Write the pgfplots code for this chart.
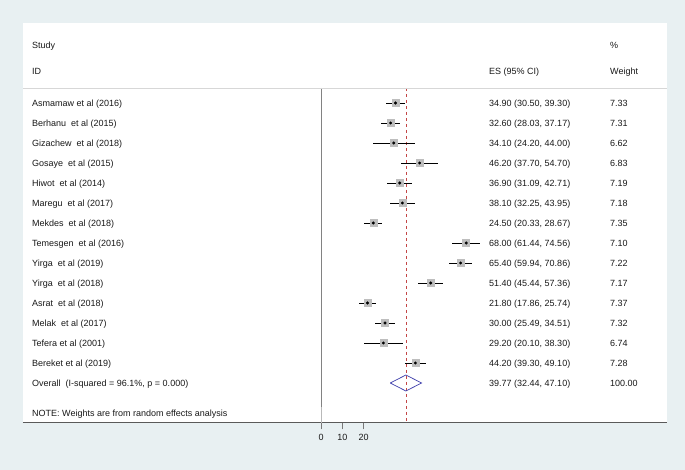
\documentclass[border=0pt]{standalone}
\usepackage{pgfplots}
\usepackage{pgfplotstable}
\pgfplotsset{compat=1.18}
\usepackage{fontspec}
\setmainfont{Liberation Sans}
\definecolor{bgcol}{RGB}{232,240,242}
\definecolor{boxgray}{RGB}{190,190,190}
\definecolor{refred}{RGB}{195,70,70}
\definecolor{dianavy}{RGB}{60,60,170}
\definecolor{sepgray}{RGB}{215,215,215}
\definecolor{txt}{RGB}{25,25,25}
\definecolor{axgray}{RGB}{90,90,90}
\definecolor{tickgray}{RGB}{120,120,120}
\definecolor{vgray}{RGB}{130,130,130}
\definecolor{lgray}{RGB}{185,185,185}

\pgfplotstableread{
y es lo hi w
-103 34.90 30.50 39.30 7.33
-123 32.60 28.03 37.17 7.31
-143 34.10 24.20 44.00 6.62
-163 46.20 37.70 54.70 6.83
-183 36.90 31.09 42.71 7.19
-203 38.10 32.25 43.95 7.18
-223 24.50 20.33 28.67 7.35
-243 68.00 61.44 74.56 7.10
-263 65.40 59.94 70.86 7.22
-283 51.40 45.44 57.36 7.17
-303 21.80 17.86 25.74 7.37
-323 30.00 25.49 34.51 7.32
-343 29.20 20.10 38.30 6.74
-363 44.20 39.30 49.10 7.28
}\studies

\begin{document}
\begin{tikzpicture}[x=1pt,y=1pt]
\fill[bgcol] (0,0) rectangle (685,470);
\begin{axis}[
  at={(23pt,47pt)}, anchor=south west,
  scale only axis, width=644pt, height=400pt,
  xmin=-139.58, xmax=162.06, ymin=-423, ymax=-23,
  axis background/.style={fill=white},
  axis x line=bottom, axis y line=none,
  x axis line style={-, draw=axgray, line width=1pt},
  xtick={0,10,20}, ytick=\empty,
  tick align=outside, major tick length=6.5pt,
  xtick style={draw=tickgray, line width=0.8pt},
  tick label style={font=\fontsize{9}{11}\selectfont, text=txt},
  xticklabel style={yshift=-1.5pt},
  /pgf/number format/assume math mode=true,
  clip=false,
]
\draw[vgray, line width=0.9pt] (axis cs:0,-88) -- (axis cs:0,-407);
\draw[lgray, line width=0.9pt] (axis cs:0,-407) -- (axis cs:0,-423);
\draw[refred, line width=0.7pt, dash pattern=on 3.5pt off 2.5pt] (axis cs:39.77,-88) -- (axis cs:39.77,-423);
\addplot[only marks, mark=none,
  error bars/.cd, x dir=both, x explicit, error mark=none,
  error bar style={black, line width=0.6pt}]
  table[x=es, y=y, x error plus expr=\thisrow{hi}-\thisrow{es}, x error minus expr=\thisrow{es}-\thisrow{lo}] {\studies};
\addplot[only marks, mark=square*, mark size=3.5pt, mark options={draw=boxgray, fill=boxgray}]
  table[x=es, y=y] {\studies};
\addplot[only marks, mark=*, mark size=1.3pt, mark options={draw=black, fill=black}]
  table[x=es, y=y] {\studies};
\addplot[dianavy, line width=0.7pt, mark=none] coordinates {(32.44,-383) (39.77,-375) (47.10,-383) (39.77,-391) (32.44,-383)};
\end{axis}
\draw[sepgray, line width=0.8pt] (23,382) -- (667,382);
\begin{scope}[yshift=-1.5pt, every node/.style={anchor=west, inner sep=0pt, text height=6.5pt, text depth=1.9pt, font=\fontsize{9}{11}\selectfont, text=txt}]
\node at (32,425) {Study};
\node at (32,399) {ID};
\node at (489,399) {ES (95\% CI)};
\node at (610,425) {\%};
\node at (610,399) {Weight};
\node at (32,367) {Asmamaw et al (2016)};
\node at (32,347) {Berhanu\ \ et al (2015)};
\node at (32,327) {Gizachew\ \ et al (2018)};
\node at (32,307) {Gosaye\ \ et al (2015)};
\node at (32,287) {Hiwot\ \ et al (2014)};
\node at (32,267) {Maregu\ \ et al (2017)};
\node at (32,247) {Mekdes\ \ et al (2018)};
\node at (32,227) {Temesgen\ \ et al (2016)};
\node at (32,207) {Yirga\ \ et al (2019)};
\node at (32,187) {Yirga\ \ et al (2018)};
\node at (32,167) {Asrat\ \ et al (2018)};
\node at (32,147) {Melak\ \ et al (2017)};
\node at (32,127) {Tefera et al (2001)};
\node at (32,107) {Bereket et al (2019)};
\node at (32,87) {Overall\ \ (I-squared = 96.1\%, p = 0.000)};
\node at (32,57) {NOTE: Weights are from random effects analysis};
\node at (489,367) {34.90 (30.50, 39.30)};
\node at (489,347) {32.60 (28.03, 37.17)};
\node at (489,327) {34.10 (24.20, 44.00)};
\node at (489,307) {46.20 (37.70, 54.70)};
\node at (489,287) {36.90 (31.09, 42.71)};
\node at (489,267) {38.10 (32.25, 43.95)};
\node at (489,247) {24.50 (20.33, 28.67)};
\node at (489,227) {68.00 (61.44, 74.56)};
\node at (489,207) {65.40 (59.94, 70.86)};
\node at (489,187) {51.40 (45.44, 57.36)};
\node at (489,167) {21.80 (17.86, 25.74)};
\node at (489,147) {30.00 (25.49, 34.51)};
\node at (489,127) {29.20 (20.10, 38.30)};
\node at (489,107) {44.20 (39.30, 49.10)};
\node at (489,87) {39.77 (32.44, 47.10)};
\node at (610,367) {7.33};
\node at (610,347) {7.31};
\node at (610,327) {6.62};
\node at (610,307) {6.83};
\node at (610,287) {7.19};
\node at (610,267) {7.18};
\node at (610,247) {7.35};
\node at (610,227) {7.10};
\node at (610,207) {7.22};
\node at (610,187) {7.17};
\node at (610,167) {7.37};
\node at (610,147) {7.32};
\node at (610,127) {6.74};
\node at (610,107) {7.28};
\node at (610,87) {100.00};
\end{scope}
\end{tikzpicture}
\end{document}
